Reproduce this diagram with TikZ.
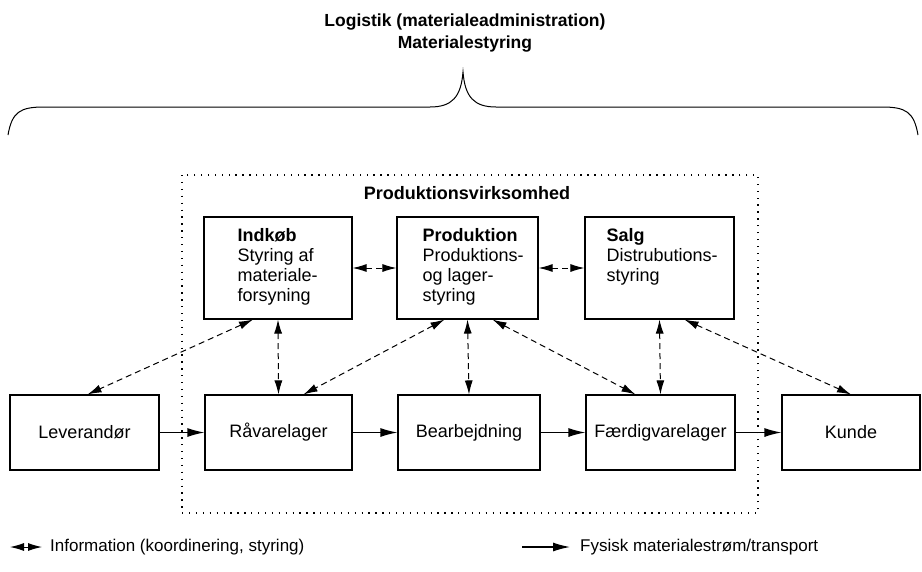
\documentclass[tikz,border=0pt]{standalone}
\usepackage{fontspec}
\setmainfont{Liberation Sans}
\usetikzlibrary{arrows.meta}

\tikzset{
  box/.style={draw,line width=1.1pt,minimum height=75pt,inner sep=0pt,font=\fontsize{18}{20.5}\selectfont},
  topbox/.style={draw,line width=1.1pt,minimum height=102pt,inner sep=0pt},
  boxtext/.style={anchor=north west,align=left,inner sep=0pt,font=\fontsize{18}{20}\selectfont},
  info/.style={dash pattern=on 6pt off 4pt,line width=1pt,{Latex[length=14pt,width=8pt]}-{Latex[length=14pt,width=8pt]}},
  flow/.style={line width=1.3pt,-{Latex[length=17pt,width=9pt]}},
  frame/.style={line width=1.3pt,dash pattern=on 1.3pt off 5.6pt},
}

\begin{document}
\begin{tikzpicture}[x=1pt,y=-1pt]
  \useasboundingbox (0,0) rectangle (922,571);

  % overskrift
  \node[font=\bfseries\fontsize{17.5}{22}\selectfont,align=center] (titel) at (465,33)
    {Logistik (materialeadministration)\\Materialestyring};

  % klamme
  \draw[line width=1pt] (8,135) .. controls (12,112) and (20,107) .. (44,107) -- (430,107)
    .. controls (452,107) and (461,97) .. (463,72)
    .. controls (465,97) and (474,107) .. (496,107) -- (882,107)
    .. controls (906,107) and (914,112) .. (918,135);

  % virksomheden
  \draw[frame] (182,175) rectangle (758,513);
  \node[font=\bfseries\fontsize{18}{20}\selectfont] (virk) at (467,193) {Produktionsvirksomhed};

  % styringsfunktioner
  \node[topbox,minimum width=148pt] (indkob) at (278,268) {};
  \node[topbox,minimum width=141pt] (prod) at (467.5,268) {};
  \node[topbox,minimum width=149pt] (salg) at (659.5,268) {};
  \node[boxtext] (indkobtxt) at ([xshift=34,yshift=-12]indkob.north west)
    {\textbf{Indkøb}\\Styring af\\materiale-\\forsyning};
  \node[boxtext] (prodtxt) at ([xshift=26,yshift=-12]prod.north west)
    {\textbf{Produktion}\\Produktions-\\og lager-\\styring};
  \node[boxtext] (salgtxt) at ([xshift=22,yshift=-12]salg.north west)
    {\textbf{Salg}\\Distrubutions-\\styring};

  % materialekæden
  \node[box,minimum width=149pt] (lev) at (84.5,432.5) {Leverandør};
  \node[box,minimum width=147pt] (rav) at (278.5,432.5) {Råvarelager};
  \node[box,minimum width=142pt] (bear) at (469,432.5) {Bearbejdning};
  \node[box,minimum width=149pt] (faerdig) at (660.5,432.5) {Færdigvarelager};
  \node[box,minimum width=138pt] (kunde) at (851,432.5) {Kunde};

  \draw[flow] (lev) -- (rav);
  \draw[flow] (rav) -- (bear);
  \draw[flow] (bear) -- (faerdig);
  \draw[flow] (faerdig) -- (kunde);

  % information
  \draw[info] (indkob) -- (prod);
  \draw[info] (prod) -- (salg);
  \draw[info] ([xshift=-25]indkob.south) -- ([xshift=3]lev.north);
  \draw[info] (indkob.south) -- (rav.north);
  \draw[info] ([xshift=-23]prod.south) -- ([xshift=25]rav.north);
  \draw[info] (prod.south) -- (bear.north);
  \draw[info] ([xshift=25]prod.south) -- ([xshift=-25]faerdig.north);
  \draw[info] (salg.south) -- (faerdig.north);
  \draw[info] ([xshift=25]salg.south) -- (kunde.north);

  % signaturforklaring
  \coordinate (infoA) at (10,547);
  \coordinate (infoB) at (42,547);
  \draw[info] (infoA) -- (infoB);
  \node[anchor=west,inner sep=0pt,font=\fontsize{17}{20}\selectfont] (infotxt) at (50,547)
    {Information (koordinering, styring)};
  \coordinate (flowA) at (522,547);
  \coordinate (flowB) at (570,547);
  \draw[flow] (flowA) -- (flowB);
  \node[anchor=west,inner sep=0pt,font=\fontsize{17}{20}\selectfont] (flowtxt) at (580,547)
    {Fysisk materialestrøm/transport};
\end{tikzpicture}
\end{document}
